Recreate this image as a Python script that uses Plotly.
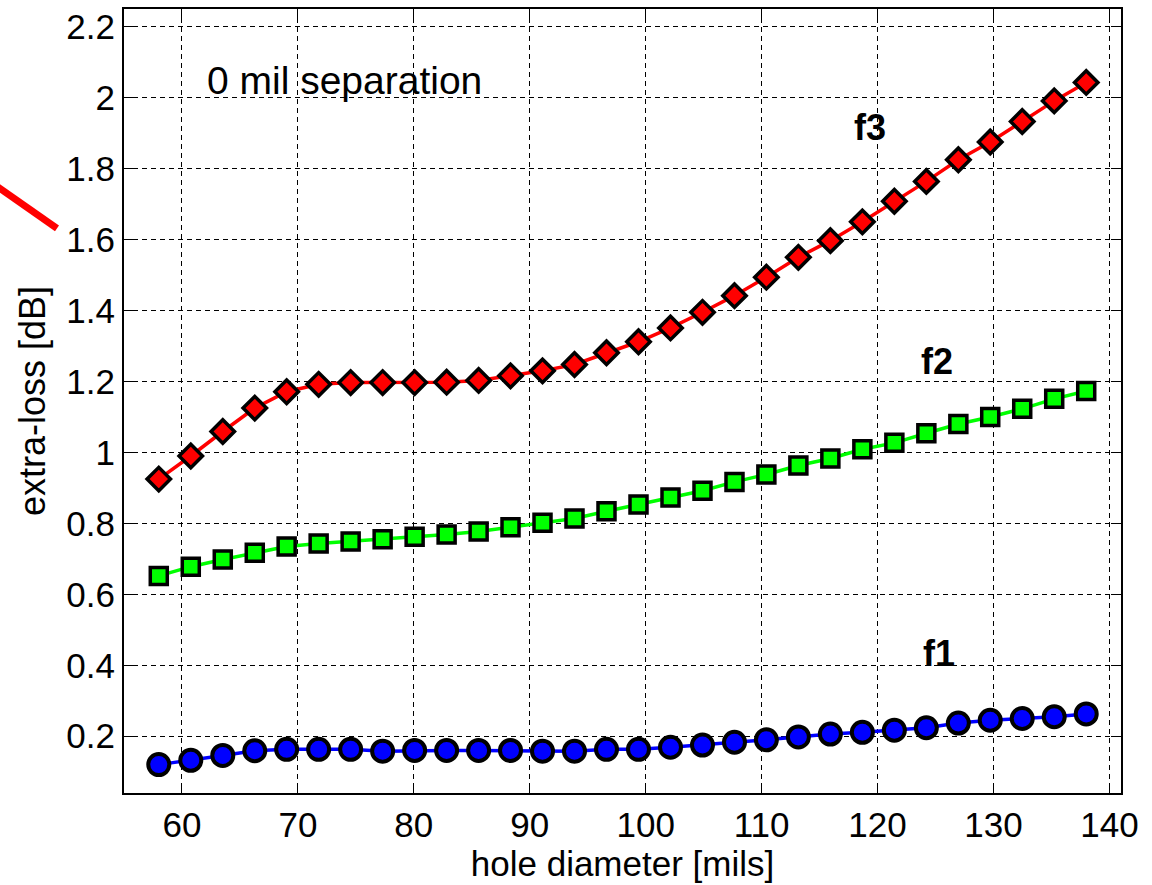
import plotly.graph_objects as go

hole_diameter = [58.0, 60.76, 63.52, 66.28, 69.03, 71.79, 74.55, 77.31, 80.07, 82.83,
                 85.59, 88.34, 91.10, 93.86, 96.62, 99.38, 102.14, 104.90, 107.66, 110.41,
                 113.17, 115.93, 118.69, 121.45, 124.21, 126.97, 129.72, 132.48, 135.24, 138.0]

loss_f1 = [0.120, 0.132, 0.146, 0.159, 0.163, 0.163, 0.163, 0.158, 0.160, 0.160,
           0.160, 0.160, 0.158, 0.158, 0.163, 0.163, 0.169, 0.175, 0.183, 0.190,
           0.198, 0.206, 0.211, 0.217, 0.224, 0.237, 0.245, 0.250, 0.255, 0.263]

loss_f2 = [0.652, 0.678, 0.698, 0.717, 0.735, 0.743, 0.749, 0.755, 0.762, 0.769,
           0.777, 0.789, 0.802, 0.814, 0.834, 0.853, 0.873, 0.892, 0.917, 0.938,
           0.963, 0.983, 1.009, 1.027, 1.054, 1.080, 1.100, 1.123, 1.151, 1.173]

loss_f3 = [0.925, 0.990, 1.059, 1.125, 1.171, 1.192, 1.197, 1.197, 1.197, 1.198,
           1.203, 1.216, 1.230, 1.248, 1.281, 1.312, 1.351, 1.395, 1.442, 1.494,
           1.550, 1.597, 1.650, 1.708, 1.764, 1.825, 1.875, 1.933, 1.991, 2.043]

x_ticks = [60, 70, 80, 90, 100, 110, 120, 130, 140]
y_ticks = [0.2, 0.4, 0.6, 0.8, 1.0, 1.2, 1.4, 1.6, 1.8, 2.0, 2.2]
y_tick_labels = ["0.2", "0.4", "0.6", "0.8", "1", "1.2", "1.4", "1.6", "1.8", "2", "2.2"]

FONT = "Liberation Sans, Arial, sans-serif"

fig = go.Figure()

fig.add_trace(go.Scatter(
    x=hole_diameter, y=loss_f1, mode="lines+markers", name="f1",
    line=dict(color="#0000FF", width=3.5),
    marker=dict(symbol="circle", size=21, color="#0000FF",
                line=dict(color="black", width=4)),
))
fig.add_trace(go.Scatter(
    x=hole_diameter, y=loss_f2, mode="lines+markers", name="f2",
    line=dict(color="#00FF00", width=3.5),
    marker=dict(symbol="square", size=17, color="#00FF00",
                line=dict(color="black", width=3.5)),
))
fig.add_trace(go.Scatter(
    x=hole_diameter, y=loss_f3, mode="lines+markers", name="f3",
    line=dict(color="#FF0000", width=3.5),
    marker=dict(symbol="diamond", size=18, color="#FF0000",
                line=dict(color="black", width=3.5)),
))

axis_common = dict(
    showgrid=True, gridcolor="black", gridwidth=1, griddash="5px,4px",
    showline=True, linecolor="black", linewidth=2, mirror="ticks",
    ticks="inside", ticklen=10, tickwidth=1, tickcolor="black",
    zeroline=False,
    tickfont=dict(family=FONT, size=35, color="black"),
)

fig.update_xaxes(
    range=[55, 141], tickvals=x_ticks, ticktext=[str(v) for v in x_ticks],
    title=dict(text="hole diameter [mils]", font=dict(family=FONT, size=35, color="black"),
               standoff=6),
    **axis_common,
)
fig.update_yaxes(
    range=[0.04, 2.25], tickvals=y_ticks, ticktext=y_tick_labels,
    title=dict(text="extra-loss [dB]", font=dict(family=FONT, size=36, color="black"),
               standoff=10),
    **axis_common,
)

# plot area pixel geometry
L, R, T, B = 124, 1121, 7, 793
W, H = R - L, B - T

def px(xp):
    return (xp - L) / W

def py(yp):
    return (B - yp) / H

fig.add_annotation(x=px(205), y=py(79), xref="paper", yref="paper",
                   text="0 mil separation", showarrow=False, xanchor="left", yanchor="middle",
                   font=dict(family=FONT, size=39, color="black"))
for label, xp, yp in [("f3", 870, 126), ("f2", 937, 360), ("f1", 939, 653)]:
    fig.add_annotation(x=px(xp), y=py(yp), xref="paper", yref="paper",
                       text="<b>%s</b>" % label, showarrow=False,
                       xanchor="center", yanchor="middle",
                       font=dict(family=FONT, size=36, color="black"))

fig.add_shape(type="line", xref="paper", yref="paper",
              x0=px(-10), y0=py(180), x1=px(57), y1=py(227),
              line=dict(color="#FF0000", width=7))

fig.update_layout(
    width=1152, height=885, autosize=False,
    margin=dict(l=L, r=1152 - R, t=T, b=885 - B),
    paper_bgcolor="white", plot_bgcolor="white",
    showlegend=False,
)

fig.write_html("out.html")
